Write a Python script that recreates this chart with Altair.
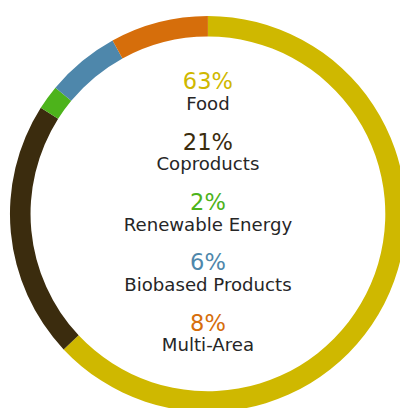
import altair as alt
import pandas as pd

categories = ["Food", "Coproducts", "Renewable Energy", "Biobased Products", "Multi-Area"]
shares = [63, 21, 2, 6, 8]
pct_labels = ["63%", "21%", "2%", "6%", "8%"]
colors = ["#CFB800", "#3B2C0E", "#4DB31B", "#4E87AB", "#D66E0B"]

df = pd.DataFrame({
    "category": categories,
    "share": shares,
    "pct": pct_labels,
    "idx": list(range(len(categories))),
})

color_scale = alt.Scale(domain=categories, range=colors)

base = alt.Chart(df)

ring = base.mark_arc(radius=202, radius2=181, stroke=None).encode(
    theta=alt.Theta("share:Q", stack=True),
    order=alt.Order("idx:Q"),
    color=alt.Color("category:N", scale=color_scale, legend=None),
    x=alt.value(204),
    y=alt.value(206),
)

ypos = alt.Y("idx:O", axis=None, scale=alt.Scale(range=[79, 325], padding=0))

pct_text = base.mark_text(
    font="DejaVu Sans", fontSize=23, fontWeight="normal", baseline="alphabetic", align="center"
).encode(
    text="pct:N",
    y=ypos,
    x=alt.value(204),
    color=alt.Color("category:N", scale=color_scale, legend=None),
)

label_text = base.mark_text(
    font="DejaVu Sans", fontSize=18.5, baseline="alphabetic", align="center", dy=21, color="#262626"
).encode(
    text="category:N",
    y=ypos,
    x=alt.value(204),
)

chart = alt.layer(ring, pct_text, label_text).properties(
    width=400, height=400, padding=0,
    autosize=alt.AutoSizeParams(type="none"),
).configure_view(stroke=None)

chart.save("out.html", embed_options={"renderer": "svg", "actions": False})
